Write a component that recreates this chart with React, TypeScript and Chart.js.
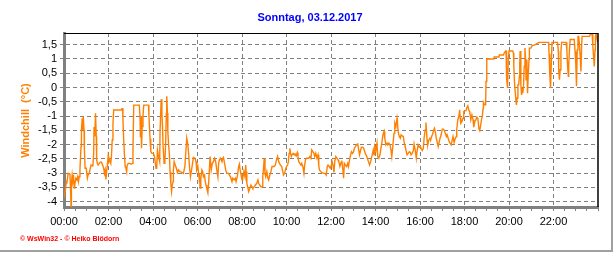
import React, { useEffect, useRef } from "react";
import { Chart, registerables } from "chart.js";

Chart.register(...registerables);

const chartTitle = "Sonntag, 03.12.2017";
const yAxisTitle = "Windchill  (°C)";
const footerText = "© WsWin32 - © Heiko Blödorn";

// time of day in minutes since 00:00
const minutes = [
  0, 1, 4, 6, 8, 10, 11, 16, 18, 19, 20, 22, 24, 26, 28, 29, 32, 35, 37, 39,
  41, 43, 45, 46, 47, 49, 51, 52, 54, 55, 57, 60, 63, 65, 68, 71, 73, 76, 78, 80,
  81, 83, 85, 87, 88, 90, 92, 95, 98, 101, 104, 107, 109, 111, 113, 115, 117, 119, 121, 123,
  125, 126, 128, 130, 132, 134, 154, 156, 158, 159, 161, 163, 165, 167, 169, 170, 173, 177, 181, 184,
  186, 188, 203, 205, 206, 208, 209, 211, 213, 215, 228, 229, 232, 234,
  237, 241, 244, 248, 250, 252, 255, 258, 259, 262, 264, 266, 267, 270, 272, 274, 276, 277, 279, 280,
  282, 284, 286, 288, 290, 292, 294, 295, 297, 300, 303, 306, 309, 313, 318, 322, 326, 328, 331, 334,
  336, 338, 341, 344, 347, 349, 353, 356, 358, 361, 364, 365, 367, 369, 372, 374, 376, 379, 381, 383,
  385, 388, 390, 392, 394, 397, 400, 403, 406, 409, 412, 415, 417, 419, 422, 426, 428, 430, 433, 436,
  439, 444, 446, 449, 453, 455, 459, 462, 464, 468, 471, 473, 475,
  480, 482, 485, 488, 490, 491, 493, 496, 498, 501, 504, 507, 509, 513, 516, 520, 523, 525, 528, 531,
  534, 536, 538, 540, 542, 544, 547, 550, 552, 555, 558, 561, 563, 567, 570, 573, 576, 579, 581, 584,
  587, 589, 592, 595, 597, 600, 603, 605, 607, 609, 611, 613, 615, 618, 621, 623, 626, 629, 631, 633,
  636, 639, 641, 644, 647, 649, 651, 654, 657, 660, 663, 666, 668, 671, 674, 676, 679, 682, 685, 687,
  689, 692, 695, 700, 704, 707, 710, 712, 715, 718, 721, 723, 726,
  728, 730, 733, 736, 739, 741, 744, 747, 749, 752, 754, 756, 759, 762, 765, 767, 770, 773, 775, 778,
  781, 783, 786, 789, 792, 794, 797, 800, 802, 805, 808, 810, 813, 816, 818, 821, 824, 827, 829, 832,
  834, 836, 838, 841, 844, 846, 849, 852, 854, 857, 860, 863, 865, 868, 871, 873, 876, 879, 881, 884,
  887, 890, 892, 895, 898, 899, 901, 904, 907, 909, 912, 915, 917, 920, 923, 925, 928, 931, 934, 936,
  939, 942, 944, 947, 950, 952, 955, 958, 961, 963, 966, 969,
  971, 974, 976, 978, 979, 981, 984, 987, 989, 992, 995, 997, 999, 1001, 1004, 1006, 1009, 1012, 1014, 1017,
  1020, 1023, 1025, 1028, 1031, 1033, 1036, 1039, 1041, 1044, 1047, 1049, 1052, 1055, 1058, 1059, 1062, 1065, 1067, 1068,
  1070, 1073, 1076, 1078, 1081, 1084, 1086, 1089, 1092, 1094, 1097, 1100, 1103, 1105, 1108, 1111, 1113, 1116, 1119, 1121,
  1123, 1126, 1128, 1130, 1131, 1134, 1137, 1138, 1140, 1159, 1160, 1173, 1174, 1185, 1187, 1191, 1192, 1193, 1194, 1196,
  1198, 1200, 1210, 1212,
  1213, 1215, 1217, 1219, 1220, 1222, 1224, 1226, 1228, 1229, 1230, 1232, 1234, 1236, 1237, 1239, 1241, 1243, 1245, 1246,
  1248, 1250, 1252, 1254, 1255, 1259, 1262, 1271, 1280, 1307, 1308, 1310, 1312, 1314, 1316, 1331, 1333, 1334, 1336, 1338,
  1340, 1342, 1354, 1356, 1358, 1360, 1361, 1363, 1365, 1376, 1378, 1380, 1382, 1384, 1386, 1388, 1390, 1392, 1394, 1396,
  1397, 1417, 1419, 1422, 1424, 1426, 1428, 1430, 1432, 1433, 1435, 1439,
];

// windchill in °C
const windchill = [
  -3.83, -3.71, -3.59, -3.3, -3.33, -3.13, -3.01, -3.04, -3.71, -4.18, -3.36, -3.07, -3.3, -3.18, -3.53, -3.42, -3.18, -3.24, -3.13, -3.3,
  -3.13, -2.89, -2.31, -2.07, -1.49, -1.08, -1.49, -1.02, -1.49, -2.19, -2.83, -2.83, -3.18, -3.07, -3.01, -2.83, -2.72, -2.75, -2.72, -2.31,
  -1.39, -1.72, -0.9, -1.72, -2.54, -2.66, -2.72, -2.66, -2.62, -2.62, -2.72, -2.83, -3.01, -2.89, -3.22, -2.95, -2.72, -2.42, -2.6, -2.54,
  -2.63, -2.66, -2.42, -1.84, -1.29, -0.79, -0.79, -0.74, -0.74, -1.13, -1.84, -2.36, -2.77, -2.83, -2.95, -2.75, -2.66, -2.66, -2.69, -2.66,
  -2.19, -0.62, -0.62, -1.02, -1.75, -1.0, -2.13, -1.37, -1.0, -0.62, -0.62, -1.0, -1.8, -2.25,
  -2.31, -2.31, -2.42, -2.83, -2.83, -2.19, -2.42, -2.6, -1.54, -0.41, -0.9, -1.49, -2.01, -2.66, -2.6, -2.01, -0.9, -0.31, -0.9, -1.54,
  -2.01, -2.31, -2.95, -3.36, -3.65, -3.42, -3.3, -2.89, -2.6, -2.72, -2.83, -2.98, -2.89, -2.95, -2.98, -3.01, -2.77, -2.36, -1.78, -2.01,
  -2.31, -2.72, -3.13, -2.89, -2.63, -2.45, -2.48, -2.6, -2.89, -2.77, -3.13, -3.01, -3.53, -3.18, -2.89, -2.95, -3.13, -3.07, -3.3, -3.42,
  -3.53, -3.69, -3.36, -2.89, -2.42, -2.89, -2.66, -2.6, -2.48, -2.6, -2.89, -3.13, -2.66, -2.54, -2.48, -2.6, -2.48, -2.45, -2.66, -2.89,
  -3.01, -3.01, -3.07, -3.13, -3.3, -3.18, -3.24, -3.18, -3.3, -3.07, -2.77, -2.69, -2.89,
  -3.24, -3.18, -2.95, -3.13, -2.72, -2.95, -3.36, -3.53, -3.65, -3.53, -3.42, -3.48, -3.53, -3.48, -3.42, -3.36, -3.24, -3.36, -3.42, -3.48,
  -3.48, -3.13, -2.83, -2.48, -3.01, -3.13, -2.95, -3.18, -3.24, -3.07, -2.95, -2.77, -2.77, -2.77, -2.72, -2.54, -2.42, -2.6, -2.66, -2.72,
  -2.77, -2.89, -3.07, -3.01, -2.89, -2.77, -2.72, -2.6, -2.31, -2.13, -2.31, -2.42, -2.36, -2.31, -2.36, -2.33, -2.4, -2.28, -2.42, -2.6,
  -2.66, -2.72, -2.66, -2.77, -3.01, -2.72, -2.54, -2.48, -2.48, -2.48, -2.42, -2.48, -2.19, -2.25, -2.31, -2.42, -2.31, -2.48, -2.36, -2.75,
  -2.89, -2.95, -2.98, -3.01, -3.01, -3.07, -2.77, -2.72, -2.77, -2.83, -2.72, -2.6, -2.77,
  -2.98, -2.6, -2.42, -2.48, -2.54, -2.6, -2.77, -2.63, -2.56, -2.89, -3.18, -2.66, -2.72, -2.77, -2.66, -2.77, -2.54, -2.36, -2.25, -2.31,
  -2.25, -2.13, -2.07, -2.01, -1.98, -2.13, -2.36, -2.19, -2.09, -2.09, -2.13, -2.21, -2.33, -2.4, -2.48, -2.6, -2.72, -2.6, -2.48, -2.31,
  -2.19, -2.36, -2.07, -2.19, -1.95, -2.42, -2.48, -2.36, -2.19, -1.95, -1.66, -1.54, -1.78, -2.01, -1.95, -2.01, -1.95, -2.01, -2.13, -2.42,
  -2.01, -1.6, -1.25, -1.37, -1.08, -1.19, -1.54, -1.72, -1.78, -1.66, -1.7, -1.72, -1.9, -2.07, -2.25, -2.36, -2.31, -2.25, -2.28, -2.36,
  -2.31, -2.21, -1.98, -2.19, -2.48, -2.25, -2.01, -2.09, -2.07, -2.13, -2.21, -2.13,
  -1.78, -1.49, -1.23, -1.6, -1.84, -2.01, -1.84, -1.78, -1.81, -1.7, -1.6, -1.49, -1.43, -1.54, -1.78, -1.9, -2.07, -1.9, -1.78, -1.66,
  -1.46, -1.46, -1.49, -1.6, -1.72, -1.66, -1.78, -1.9, -1.95, -2.01, -1.84, -1.72, -1.93, -1.78, -1.72, -1.49, -1.13, -0.99, -0.78, -1.04,
  -1.25, -1.19, -1.08, -0.84, -0.82, -0.81, -0.72, -0.64, -0.81, -0.84, -1.13, -0.96, -1.13, -1.39, -1.19, -1.13, -1.04, -1.08, -1.46, -1.51,
  -1.37, -1.11, -1.02, -0.74, -0.53, -0.61, -0.61, 0.21, 1.0, 1.0, 1.07, 1.07, 1.14, 1.14, 1.21, 1.28, 1.28, 0.95, 0.33, -0.02,
  0.95, 1.28, 1.28, 1.21,
  0.74, 0.15, -0.2, -0.49, -0.61, -0.37, 0.09, 0.09, 0.39, 0.86, 1.28, 0.09, -0.26, -0.02, -0.2, -0.02, 0.74, 1.38, 0.91, 0.27,
  0.98, -0.2, 0.5, 0.98, 1.38, 1.38, 1.46, 1.5, 1.58, 1.58, 1.18, 0.45, -0.02, 0.8, 1.58, 1.58, 1.27, 0.62, 0.27, 0.62,
  1.27, 1.58, 1.58, 1.32, 0.74, 0.39, 0.74, 1.32, 1.68, 1.68, 1.27, 0.86, 0.04, 1.32, 1.79, 1.79, 1.5, 1.09, 0.56, 1.5,
  1.79, 1.79, 1.85, 1.89, 1.89, 1.5, 1.09, 0.74, 1.32, 1.79, 1.89, 1.58,
];

const yTicksMin = -4.19;
const yTicksMax = 1.91;

const pad2 = (n: number) => (n < 10 ? "0" + n : "" + n);

export default function App() {
  const canvasRef = useRef<HTMLCanvasElement | null>(null);

  useEffect(() => {
    const canvas = canvasRef.current;
    if (!canvas) return;
    const points = minutes.map((m, i) => ({ x: m, y: windchill[i] }));
    const font = 'Arial, "Liberation Sans", sans-serif';

    const decor = {
      id: "decor",
      afterDraw(chart: any) {
        const { ctx, chartArea } = chart;
        ctx.save();
        // top and right black border of plot
        ctx.strokeStyle = "#000000";
        ctx.lineWidth = 1;
        ctx.beginPath();
        ctx.moveTo(chartArea.left, Math.round(chartArea.top) + 0.5);
        ctx.lineTo(chartArea.right, Math.round(chartArea.top) + 0.5);
        ctx.stroke();
        ctx.lineWidth = 1.5;
        ctx.beginPath();
        ctx.moveTo(chartArea.right, chartArea.top);
        ctx.lineTo(chartArea.right, chartArea.bottom);
        ctx.stroke();
        // title
        ctx.fillStyle = "#0000FF";
        ctx.font = "bold 11px " + font;
        ctx.textAlign = "center";
        ctx.textBaseline = "middle";
        ctx.fillText(chartTitle, 310, 18);
        // y-axis title
        ctx.save();
        ctx.translate(26, 120.5);
        ctx.rotate(-Math.PI / 2);
        ctx.fillStyle = "#FF8000";
        ctx.font = "bold 11px " + font;
        ctx.fillText(yAxisTitle, 0, 0);
        ctx.restore();
        // footer
        ctx.fillStyle = "#FF0000";
        ctx.font = "bold 7px " + font;
        ctx.textAlign = "left";
        ctx.fillText(footerText, 20, 239);
        // outer frame
        ctx.fillStyle = "#A0A0A0";
        ctx.fillRect(611, 0, 2, 252);
        ctx.fillRect(0, 250, 613, 2);
        ctx.restore();
      },
    };

    const chart = new Chart(canvas, {
      type: "line",
      data: {
        datasets: [
          {
            data: points,
            borderColor: "#FF8000",
            borderWidth: 1.4,
            pointRadius: 0,
            tension: 0,
            fill: false,
          },
        ],
      },
      options: {
        animation: false,
        responsive: false,
        events: [],
        layout: { padding: { left: 0, right: 18, top: 33, bottom: 0 } },
        plugins: { legend: { display: false }, tooltip: { enabled: false }, title: { display: false } },
        scales: {
          x: {
            type: "linear",
            min: 0,
            max: 1440,
            afterFit: (s: any) => {
              s.height = 46;
            },
            ticks: {
              stepSize: 30,
              autoSkip: false,
              maxRotation: 0,
              padding: 4,
              color: "#000000",
              font: { family: font, size: 11 },
              callback: (v: any) => {
                const n = Number(v);
                return n % 120 === 0 && n < 1440 ? pad2(n / 60) + ":00" : "";
              },
            },
            grid: {
              color: (c: any) => {
                const v = c.tick ? c.tick.value : 0;
                return v % 120 === 0 && v > 0 && v < 1440 ? "#808080" : "rgba(0,0,0,0)";
              },
              tickColor: "#808080",
              tickLength: 4,
              lineWidth: 1,
            },
            border: { display: true, color: "#808080", width: 3, dash: [4, 3] },
          },
          y: {
            type: "linear",
            min: yTicksMin,
            max: yTicksMax,
            afterFit: (s: any) => {
              s.width = 64;
            },
            ticks: {
              stepSize: 0.5,
              includeBounds: false,
              autoSkip: false,
              padding: 3,
              color: "#000000",
              font: { family: font, size: 11 },
              callback: (v: any) => {
                const n = Math.round(Number(v) * 10) / 10;
                return String(n).replace(".", ",");
              },
            },
            grid: {
              color: "#808080",
              tickColor: "#808080",
              tickLength: 4,
              lineWidth: 1,
            },
            border: { display: true, color: "#808080", width: 3, dash: [4, 3] },
          },
        },
      },
      plugins: [decor],
    } as any);

    return () => chart.destroy();
  }, []);

  return (
    <div style={{ position: "absolute", left: 0, top: 0, width: 616, height: 253, background: "#ffffff" }}>
      <canvas ref={canvasRef} width={616} height={253} style={{ display: "block" }} />
    </div>
  );
}
